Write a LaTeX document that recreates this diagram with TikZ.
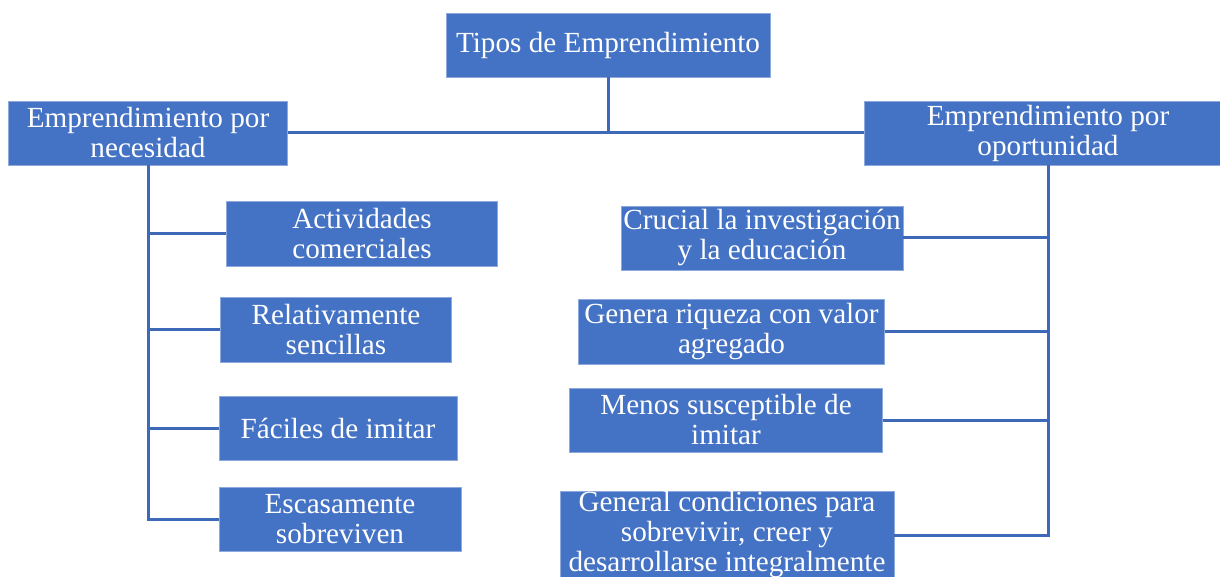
\documentclass[tikz,border=0pt]{standalone}
\usepackage{fontspec}
\setmainfont{Liberation Serif}
\definecolor{boxblue}{HTML}{4472C4}
\definecolor{lineblue}{HTML}{3D69B8}
\definecolor{edgeblue}{HTML}{8EA9DB}

\begin{document}
\begin{tikzpicture}[x=0.5pt, y=-0.5pt,
    tipo/.style={fill=boxblue, draw=edgeblue, line width=0.4pt, text=white, align=center,
        inner sep=0pt, font=\fontsize{14.6}{15}\selectfont},
    rama/.style={draw=lineblue, line width=1.5pt}]
    \useasboundingbox (0,0) rectangle (1220,577);
    \clip (0,0) rectangle (1220,577);

    \node[tipo, minimum width=162pt, minimum height=32pt] (tipos) at (608,45) {Tipos de Emprendimiento};
    \node[tipo, minimum width=139.5pt, minimum height=32pt] (nec) at (148,133) {Emprendimiento por\\necesidad};
    \node[tipo, minimum width=184pt, minimum height=32pt] (opo) at (1048,133) {Emprendimiento por\\oportunidad};

    % necesidad
    \node[tipo, minimum width=135.5pt, minimum height=32.5pt] (act) at (362,234) {Actividades\\comerciales};
    \node[tipo, minimum width=115.5pt, minimum height=32.5pt] (rel) at (336,329.5) {Relativamente\\sencillas};
    \node[tipo, minimum width=119pt, minimum height=32pt] (fac) at (338,428) {Fáciles de imitar};
    \node[tipo, minimum width=121pt, minimum height=32pt] (esc) at (340,519) {Escasamente\\sobreviven};

    % oportunidad
    \node[tipo, minimum width=141pt, minimum height=32pt] (cru) at (762,238) {Crucial la investigación\\y la educación};
    \node[tipo, minimum width=153pt, minimum height=32.5pt] (gen) at (731.5,331.5) {Genera riqueza con valor\\agregado};
    \node[tipo, minimum width=156.5pt, minimum height=32pt] (men) at (726,420) {Menos susceptible de\\imitar};
    \node[tipo, minimum width=167pt, minimum height=44pt] (gco) at (727,535) {General condiciones para\\sobrevivir, creer y\\desarrollarse integralmente};

    \draw[rama]
    (tipos.south) -- (tipos.south |- nec.east)
    (nec.east) -- (opo.west)
    (nec.south) |- (esc.west)
    (nec.south |- act.west) -- (act.west)
    (nec.south |- rel.west) -- (rel.west)
    (nec.south |- fac.west) -- (fac.west)
    (opo.south) |- (gco.east)
    (opo.south |- cru.east) -- (cru.east)
    (opo.south |- gen.east) -- (gen.east)
    (opo.south |- men.east) -- (men.east)
;
\end{tikzpicture}
\end{document}
